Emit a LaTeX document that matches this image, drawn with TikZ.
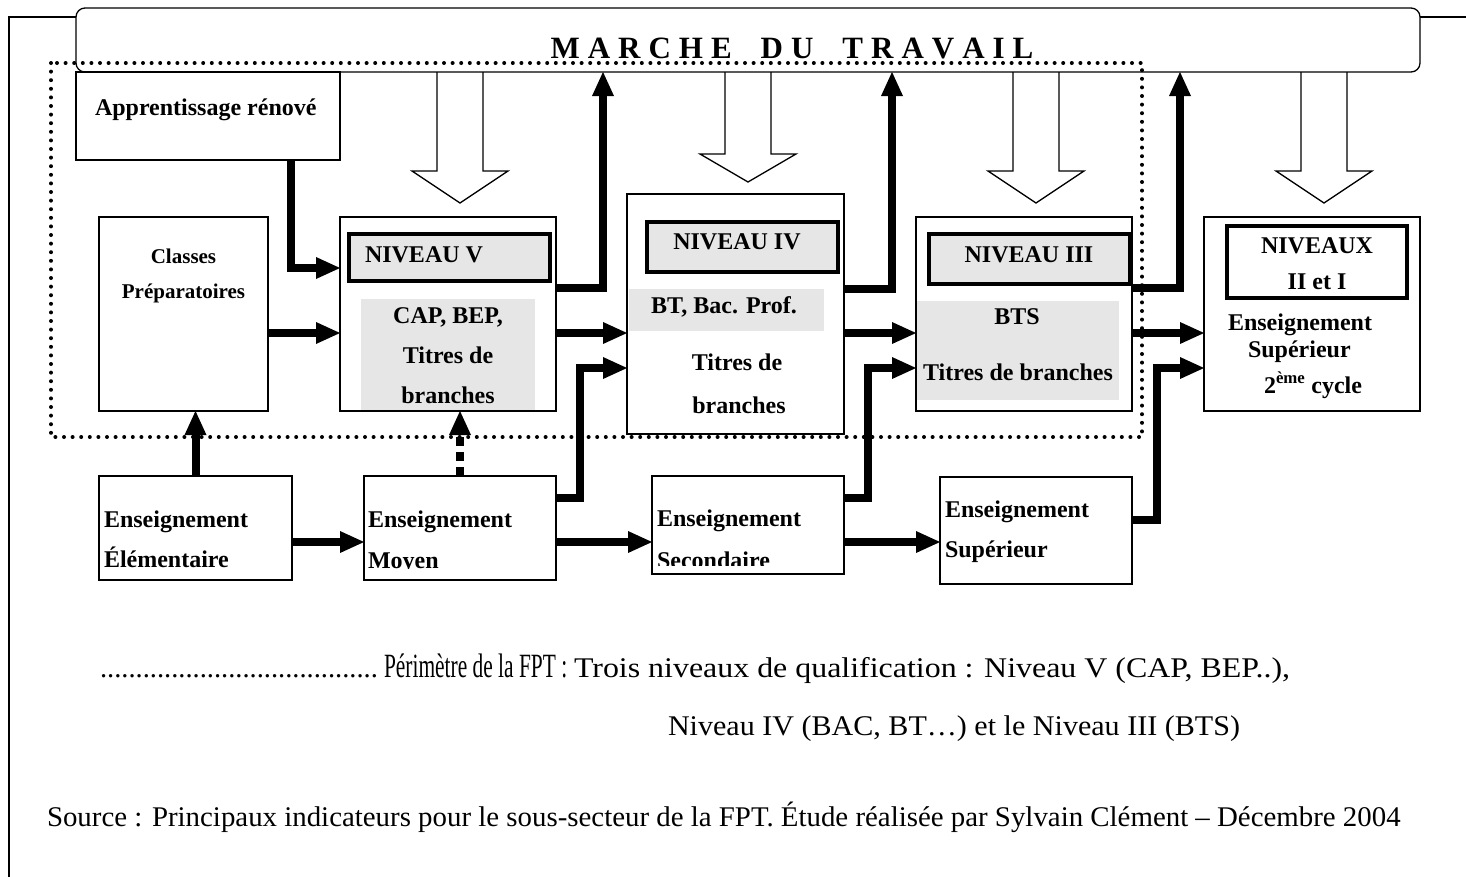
\documentclass[tikz,border=0pt]{standalone}
\usepackage{fontspec}
\setmainfont{Liberation Serif}
\usetikzlibrary{arrows.meta}
\definecolor{panelgray}{RGB}{230,230,230}
\newcommand\ltrgap{\kern8pt}
\newcommand\wrdgap{\kern29pt}
% hollow downward arrow hanging from the labour-market band
% #1 = horizontal offset from market.south, #2 = shaft length, #3 = head depth
\newcommand\hollowdown[3]{%
  \draw[hollowarrow] ([xshift=#1pt]market.south) ++(-23,0) -- ++(0,#2) -- ++(-25,0)
    -- ++(48,#3) -- ++(48,-#3) -- ++(-25,0) -- ++(0,-#2);}
\begin{document}
\begin{tikzpicture}[x=1pt,y=-1pt,
  box/.style={draw, line width=1.3pt, inner sep=0pt, outer sep=0pt, anchor=north west},
  headbox/.style={draw, line width=3.2pt, inner sep=0pt, outer sep=0pt, anchor=north west},
  shade/.style={fill=panelgray, inner sep=0pt, outer sep=0pt, anchor=north west},
  lbl/.style={font=\fontsize{24}{28}\selectfont\bfseries, inner sep=0pt, outer sep=0pt},
  small/.style={font=\fontsize{21}{25}\selectfont\bfseries, inner sep=0pt, outer sep=0pt},
  legend/.style={font=\fontsize{28.5}{32}\selectfont, inner sep=0pt, outer sep=0pt, anchor=base west},
  hollowarrow/.style={line width=1.3pt, line join=miter},
  conn/.style={line width=8pt, -{Triangle[length=24pt,width=22pt,line width=0pt]}},
  dconn/.style={conn, dash pattern=on 9pt off 6pt},
  dotline/.style={line width=4pt, dash pattern=on 0pt off 8.6pt, line cap=round},
]
\fill[white] (0,0) rectangle (1466,876);
\clip (0,0) rectangle (1466,876);
\useasboundingbox (0,0) rectangle (1466,876);

% page frame
\draw[line width=1.3pt] (9,890) -- (9,17) -- (1480,17);

% labour-market band
\node[box, fill=white, rounded corners=9pt, minimum width=1344pt, minimum height=64pt] (market) at (76,8) {};
\node[font=\fontsize{31}{34}\selectfont\bfseries, inner sep=0pt, anchor=base] (markettxt) at (792,58)
  {M\ltrgap A\ltrgap R\ltrgap C\ltrgap H\ltrgap E\wrdgap D\ltrgap U\wrdgap T\ltrgap R\ltrgap A\ltrgap V\ltrgap A\ltrgap I\ltrgap L};

% demand arrows from the market
\hollowdown{-288}{99}{32}
\hollowdown{0}{82}{28}
\hollowdown{288}{99}{32}
\hollowdown{576}{99}{32}

% Apprentissage
\node[box, minimum width=264pt, minimum height=88pt] (appr) at (76,72) {};
\node[lbl, anchor=base west] (apprtxt) at (95,115) {Apprentissage rénové};

% Classes préparatoires
\node[box, minimum width=169pt, minimum height=194pt] (classes) at (99,217) {};
\node[small, anchor=base] (classes1) at (183.5,263) {Classes};
\node[small, anchor=base] (classes2) at (183.5,298) {Préparatoires};

% Niveau V
\node[shade, minimum width=174pt, minimum height=111.3pt] (niv5body) at (361,299) {};
\node[box, minimum width=216pt, minimum height=194pt] (niv5) at (340,217) {};
\node[headbox, fill=panelgray, minimum width=201pt, minimum height=47pt] (niv5head) at (349,234) {};
\node[lbl, anchor=base west] (niv5t) at (365,262) {NIVEAU V};
\node[lbl, anchor=base] (niv5a) at (448,323) {CAP, BEP,};
\node[lbl, anchor=base] (niv5b) at (448,363) {Titres de};
\node[lbl, anchor=base] (niv5c) at (448,403) {branches};

% Niveau IV
\node[box, minimum width=217pt, minimum height=240pt] (niv4) at (627,194) {};
\node[shade, minimum width=195pt, minimum height=42pt] (niv4body) at (629,289) {};
\node[headbox, fill=panelgray, minimum width=191pt, minimum height=50pt] (niv4head) at (647,222) {};
\node[lbl, anchor=base] (niv4t) at (737,249) {NIVEAU IV};
\node[lbl, anchor=base] (niv4a) at (724,313) {BT, Bac. Prof.};
\node[lbl, anchor=base] (niv4b) at (737,370) {Titres de};
\node[lbl, anchor=base] (niv4c) at (739,413) {branches};

% Niveau III
\node[box, minimum width=216pt, minimum height=194pt] (niv3) at (916,217) {};
\node[shade, minimum width=202pt, minimum height=99pt] (niv3body) at (916.6,301) {};
\node[headbox, fill=panelgray, minimum width=201pt, minimum height=50pt] (niv3head) at (929,234) {};
\node[lbl, anchor=base] (niv3t) at (1029,262) {NIVEAU III};
\node[lbl, anchor=base] (niv3a) at (1017,324) {BTS};
\node[lbl, anchor=base] (niv3b) at (1018,380) {Titres de branches};

% Niveaux II et I
\node[box, minimum width=216pt, minimum height=194pt] (niv2) at (1204,217) {};
\node[headbox, fill=white, minimum width=180pt, minimum height=72pt] (niv2head) at (1227,226) {};
\node[lbl, anchor=base] (niv2t1) at (1317,253) {NIVEAUX};
\node[lbl, anchor=base] (niv2t2) at (1317,289) {II et I};
\node[lbl, anchor=base west] (niv2a) at (1228,330) {Enseignement};
\node[lbl, anchor=base west] (niv2b) at (1248,357) {Supérieur};
\node[lbl, anchor=base west] (niv2c) at (1264,393) {2\textsuperscript{ème} cycle};

% school tracks
\node[box, minimum width=193pt, minimum height=104pt] (elem) at (99,476) {};
\node[lbl, anchor=base west] (elem1) at (104,527) {Enseignement};
\node[lbl, anchor=base west] (elem2) at (104,567) {Élémentaire};

\node[box, minimum width=192pt, minimum height=104pt] (moyen) at (364,476) {};
\node[lbl, anchor=base west] (moyen1) at (368,527) {Enseignement};
\begin{scope}
  \clip (364,476) rectangle (556,568);
  \node[lbl, anchor=base west] (moyen2) at (368,568) {Moyen};
\end{scope}

\node[box, minimum width=192pt, minimum height=98pt] (sec) at (652,476) {};
\node[lbl, anchor=base west] (sec1) at (657,526) {Enseignement};
\begin{scope}
  \clip (652,476) rectangle (844,565.5);
  \node[lbl, anchor=base west] (sec2) at (657,568.5) {Secondaire};
\end{scope}

\node[box, minimum width=192pt, minimum height=107pt] (sup) at (940,477) {};
\node[lbl, anchor=base west] (sup1) at (945,517) {Enseignement};
\node[lbl, anchor=base west] (sup2) at (945,557) {Supérieur};

% perimeter of the FPT
\draw[dotline] (51,63) rectangle (1142,437);

% flows
\draw[conn] ([xshift=83pt]appr.south) |- ([yshift=46pt]niv5.west);
\draw[conn] ([yshift=-19pt]classes.east) -- ([yshift=-19pt]niv5.west);
\draw[conn] ([yshift=26pt]niv5.east) -| ([xshift=-145pt]market.south);
\draw[conn] ([yshift=-19pt]niv5.east) -- ([yshift=-19pt]niv4.west);
\draw[conn] (elem.north) -- (elem.north |- classes.south);
\draw[dconn] (moyen.north) -- (moyen.north |- niv5.south);
\draw[conn] ([yshift=-14pt]elem.east) -- ([yshift=-14pt]moyen.west);
\draw[conn] ([yshift=30pt]moyen.east) -- ++(24,0) |- ([yshift=-54pt]niv4.west);
\draw[conn] ([yshift=-14pt]moyen.east) -- ([yshift=-17pt]sec.west);
\draw[conn] ([yshift=25pt]niv4.east) -| ([xshift=144pt]market.south);
\draw[conn] ([yshift=-19pt]niv4.east) -- ([yshift=-19pt]niv3.west);
\draw[conn] ([yshift=27pt]sec.east) -- ++(24,0) |- ([yshift=-54pt]niv3.west);
\draw[conn] ([yshift=-17pt]sec.east) -- ([yshift=-11.5pt]sup.west);
\draw[conn] ([yshift=26pt]niv3.east) -| ([xshift=432pt]market.south);
\draw[conn] ([yshift=-19pt]niv3.east) -- ([yshift=-19pt]niv2.west);
\draw[conn] ([yshift=10.5pt]sup.east) -- ++(25,0) |- ([yshift=-54pt]niv2.west);

% legend and source
\node[legend] (legdots) at (100,677) {.......................................};
\node[legend, font=\fontsize{34}{38}\selectfont] (legname) at (384,677) {\scalebox{0.63}[1]{Périmètre de la FPT :}};
\node[legend] (legline1) at (574,677) {\scalebox{1.12}[1]{Trois niveaux de qualification : Niveau V (CAP, BEP..),}};
\node[legend] (legline2) at (668,735) {\scalebox{1.055}[1]{Niveau IV (BAC, BT…) et le Niveau III (BTS)}};
\node[legend] (source) at (47,826) {\scalebox{1.013}[1]{Source : Principaux indicateurs pour le sous-secteur de la FPT. Étude réalisée par Sylvain Clément – Décembre 2004}};
\end{tikzpicture}
\end{document}
